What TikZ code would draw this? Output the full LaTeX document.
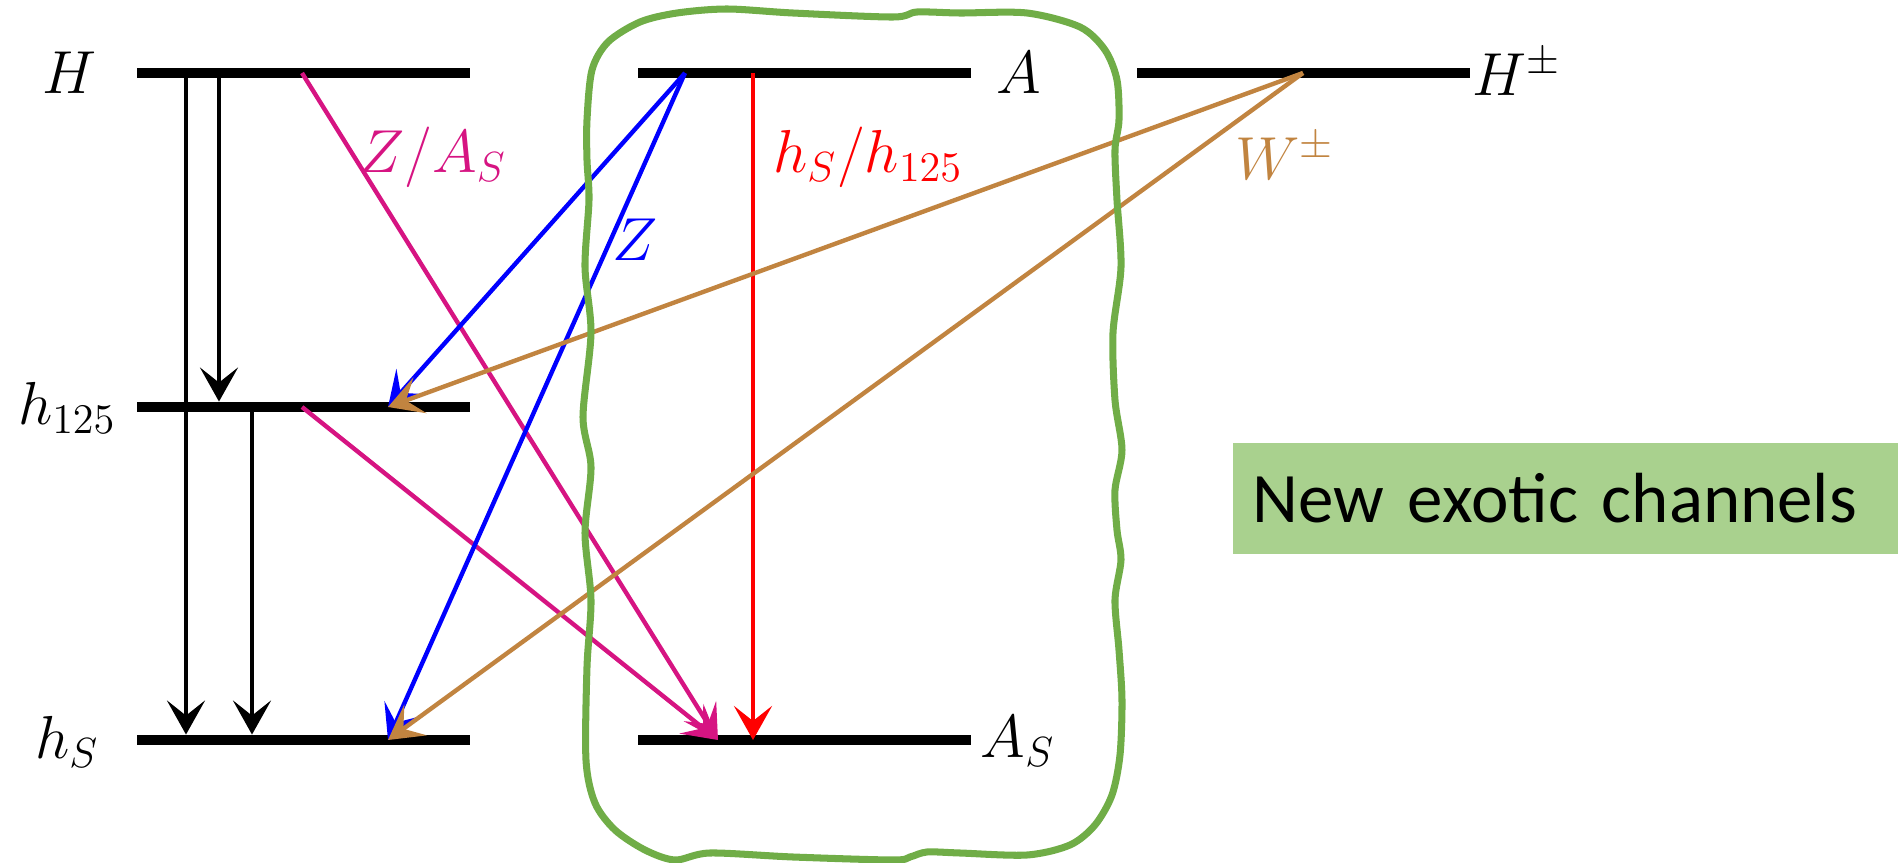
\documentclass[tikz,border=0pt]{standalone}
\usepackage{fontspec}
\newfontfamily\notefont{Carlito}
\usetikzlibrary{arrows.meta,positioning}
\definecolor{zpink}{RGB}{214,20,130}
\definecolor{wbrown}{RGB}{193,132,64}
\definecolor{blobgreen}{RGB}{112,173,71}
\definecolor{notegreen}{RGB}{169,209,142}
\tikzset{
  >={Stealth[length=3.4mm,width=3.8mm,inset=1.5mm]},
  lvl/.style={fill=black,inner sep=0pt,minimum width=33.3mm,minimum height=0.95mm,anchor=west},
  lbl/.style={font=\LARGE,inner sep=1pt},
  decay/.style={->,line width=1.25pt,draw=#1},
  decay/.default=black,
  blob/.style={draw=blobgreen,line width=2pt},
  note/.style={fill=notegreen,anchor=west,minimum width=66.6mm,minimum height=11.1mm,
    text width=62.6mm,inner xsep=2mm,inner ysep=0pt,align=left,
    font=\notefont\fontsize{20.2}{24}\selectfont},
}
\begin{document}
\begin{tikzpicture}
  \useasboundingbox (0,0) rectangle (18.98,-8.63);
  % levels
  \node[lvl] (H) at (1.36,-0.73) {};
  \node[lvl] (h125) at (1.36,-4.07) {};
  \node[lvl] (hS) at (1.36,-7.40) {};
  \node[lvl] (A) at (6.37,-0.73) {};
  \node[lvl] (AS) at (6.37,-7.40) {};
  \node[lvl] (Hpm) at (11.36,-0.73) {};
  \node[lbl] (lH) at (0.69,-0.73) {$H$};
  \node[lbl] (lh125) at (0.67,-4.08) {$h_{125}$};
  \node[lbl] (lhS) at (0.67,-7.42) {$h_S$};
  \node[lbl] (lA) at (10.19,-0.73) {$A$};
  \node[lbl] (lAS) at (10.18,-7.41) {$A_S$};
  \node[lbl] (lHpm) at (15.17,-0.72) {$H^\pm$};
  % usual cascade
  \draw[decay] ([xshift=5mm]H.west) -- ([xshift=5mm]hS.north west);
  \draw[decay] ([xshift=8.3mm]H.west) -- ([xshift=8.3mm]h125.north west);
  \draw[decay] ([xshift=11.6mm]h125.west) -- ([xshift=11.6mm]hS.north west);
  % exotic decays
  \draw[decay=zpink] ([xshift=16.6mm]H.west) -- ([xshift=8.1mm]AS.west);
  \draw[decay=zpink] ([xshift=16.6mm]h125.west) -- ([xshift=8.1mm]AS.west);
  \draw[decay=blue] ([xshift=4.8mm]A.west) -- ([xshift=25.2mm]h125.west);
  \draw[decay=blue] ([xshift=4.8mm]A.west) -- ([xshift=25.2mm]hS.west);
  \draw[decay=red] ([xshift=11.6mm]A.west) -- ([xshift=11.6mm]AS.west);
  \draw[decay=wbrown] ([xshift=16.7mm]Hpm.west) -- ([xshift=25.2mm]h125.west);
  \draw[decay=wbrown] ([xshift=16.7mm]Hpm.west) -- ([xshift=25.2mm]hS.west);
  \node[lbl,text=zpink] (lZA) at (4.33,-1.57) {$Z/A_S$};
  \node[lbl,text=red] (lhh) at (8.68,-1.57) {$h_S/h_{125}$};
  \node[lbl,text=blue] (lZ) at (6.35,-2.40) {$Z$};
  \node[lbl,text=wbrown] (lW) at (12.85,-1.56) {$W^\pm$};
  % new channels
  \draw[blob] plot[smooth cycle] coordinates {
    (5.87,-1.20) (5.92,-0.70) (6.08,-0.42) (6.40,-0.22) (6.77,-0.13) (7.27,-0.09)
    (7.93,-0.13) (8.93,-0.17) (9.17,-0.12) (9.60,-0.13) (10.27,-0.13) (10.80,-0.27)
    (11.05,-0.50) (11.17,-0.80) (11.19,-1.20) (11.15,-1.50) (11.17,-2.00) (11.21,-2.67)
    (11.13,-3.33) (11.15,-4.00) (11.22,-4.50) (11.15,-4.90) (11.17,-5.30) (11.21,-5.60)
    (11.15,-6.00) (11.19,-6.50) (11.22,-7.00) (11.20,-7.55) (11.12,-7.95) (10.95,-8.25)
    (10.70,-8.45) (10.27,-8.55) (9.60,-8.53) (9.27,-8.52) (9.10,-8.57) (8.93,-8.60)
    (7.93,-8.57) (7.10,-8.53) (6.75,-8.60) (6.45,-8.50) (6.15,-8.30) (5.95,-8.03)
    (5.86,-7.60) (5.87,-6.67) (5.91,-6.00) (5.85,-5.33) (5.91,-4.67) (5.83,-4.17)
    (5.91,-3.33) (5.85,-2.67) (5.89,-2.00) (5.87,-1.60)};
  \node[note] (new) at (12.32,-4.985) {New exotic channels};
\end{tikzpicture}
\end{document}
